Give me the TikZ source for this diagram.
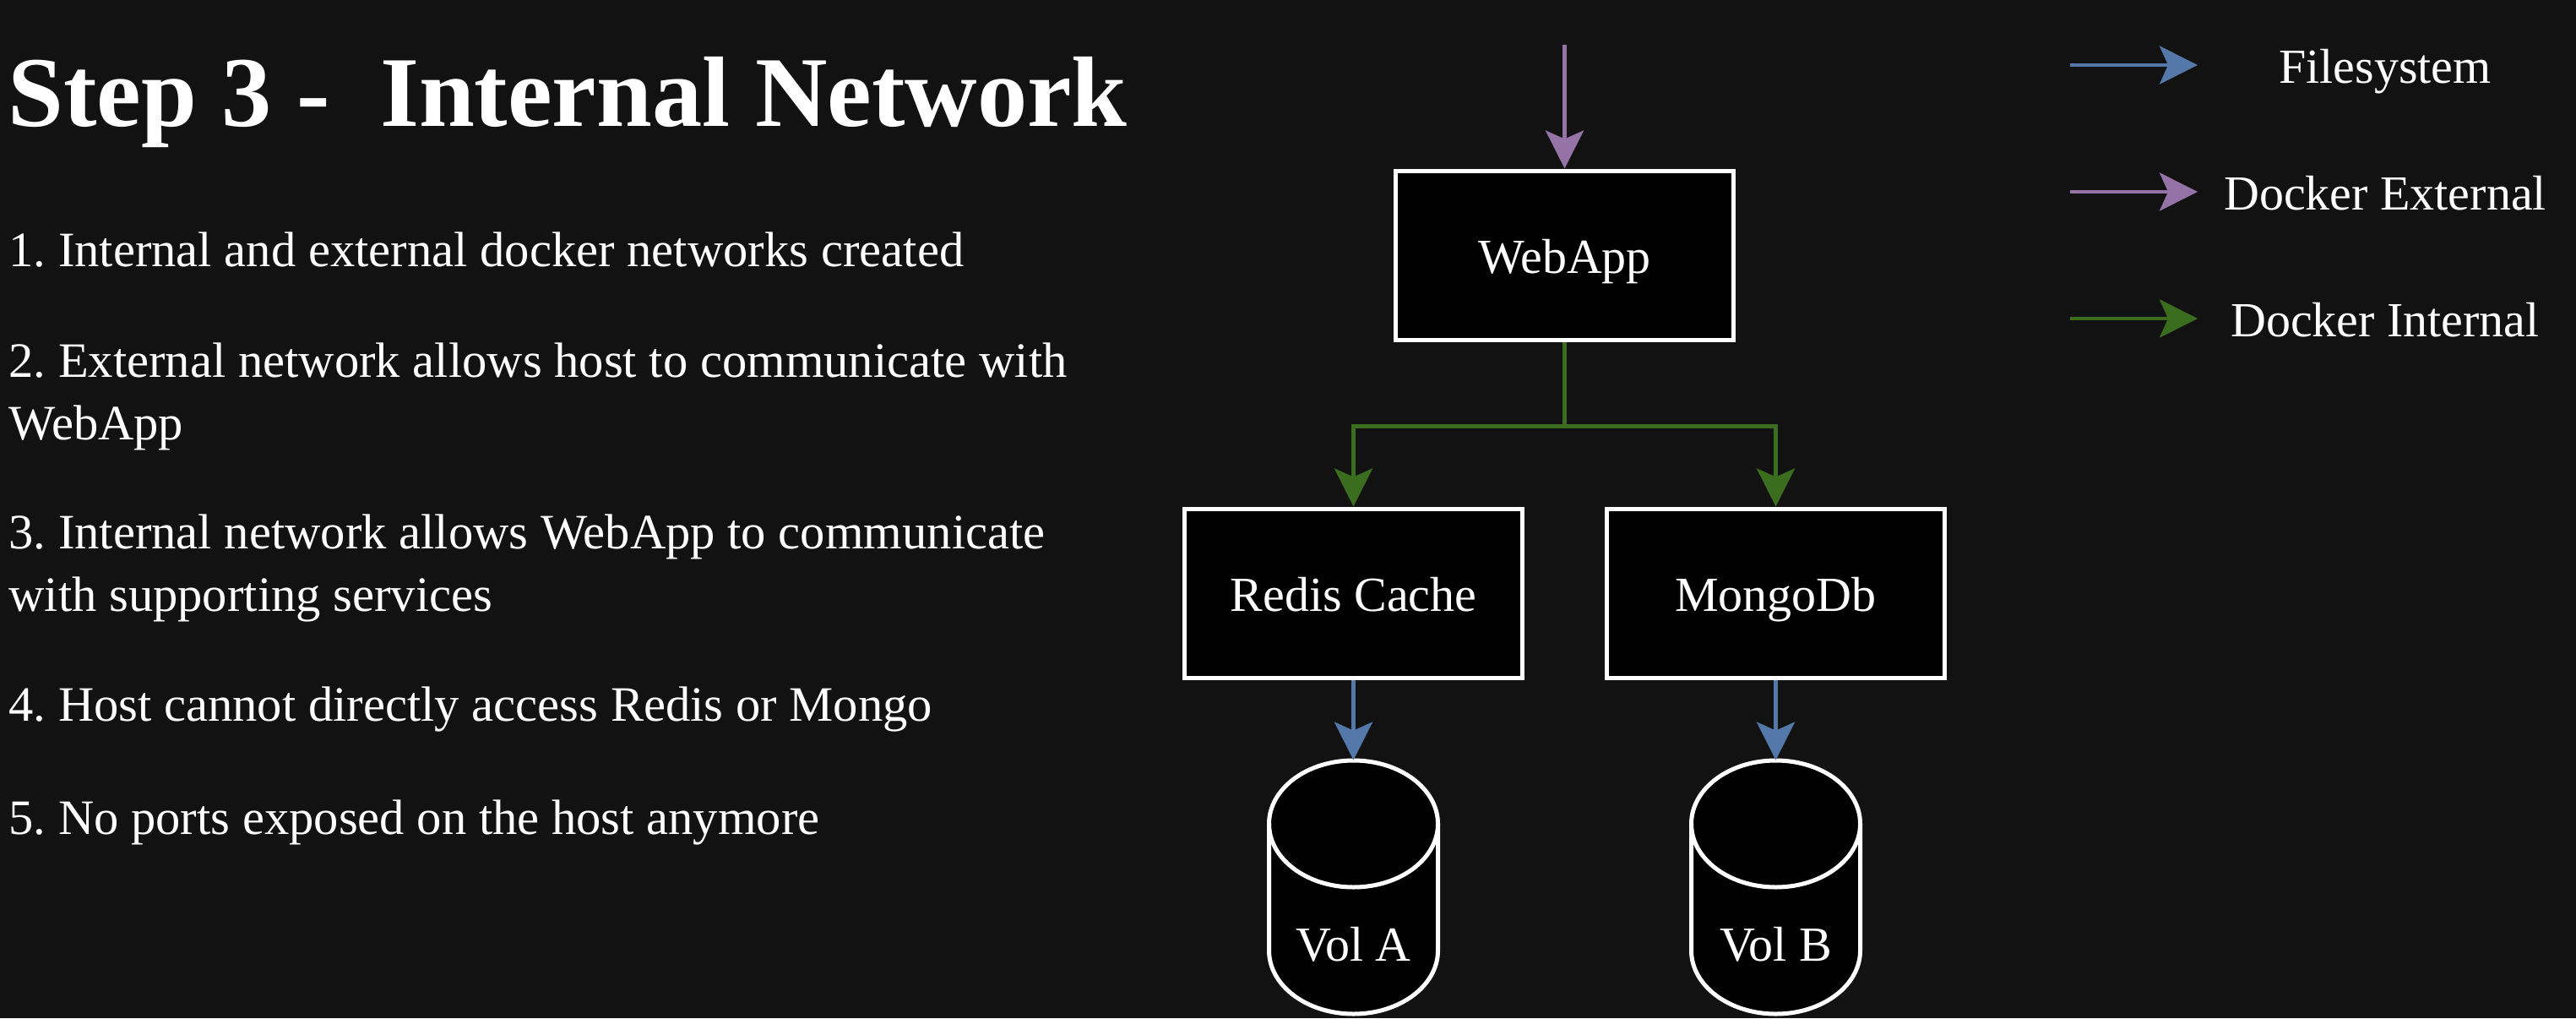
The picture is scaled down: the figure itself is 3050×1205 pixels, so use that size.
\documentclass[tikz,border=0pt]{standalone}
\usepackage{fontspec}
\setmainfont{Liberation Serif}
\usetikzlibrary{arrows.meta}
\definecolor{bgc}{HTML}{121212}
\definecolor{purp}{HTML}{9673A6}
\definecolor{blu}{HTML}{5478AA}
\definecolor{grn}{HTML}{3A6E1E}
\frenchspacing
\begin{document}
\begin{tikzpicture}[x=0.5pt,y=-0.5pt,
  txt/.style={text=white, font=\fontsize{29}{34}\selectfont, inner sep=0pt},
  itm/.style={text=white, font=\fontsize{29.3}{34}\selectfont, inner sep=0pt, anchor=base west},
  box/.style={draw=white, line width=2.5pt, fill=black, minimum width=200pt,
    minimum height=100pt, text=white, font=\fontsize{29}{34}\selectfont,
    text height=21.5pt, text depth=0pt, inner sep=0pt},
  conn/.style={line width=2.4pt, -{Stealth[length=22.5pt,width=22.5pt,inset=5pt]}},
  cyl/.style={draw=white, line width=2.5pt, fill=black},
  cylbox/.style={minimum width=100pt, minimum height=150pt, inner sep=0pt}]
\fill[bgc] (0,0) rectangle (3050,1205);
\useasboundingbox (0,0) rectangle (3050,1205);

% left text
\node[txt, font=\bfseries\fontsize{59.2}{70}\selectfont, anchor=base west] (title) at (9,149) {Step 3 -\ \ Internal Network};
\node[itm] (i1) at (10,315) {1. Internal and external docker networks created};
\node[itm] (i2a) at (10,446) {2. External network allows host to communicate with};
\node[itm] (i2b) at (10,520) {WebApp};
\node[itm] (i3a) at (10,649) {3. Internal network allows WebApp to communicate};
\node[itm] (i3b) at (10,723) {with supporting services};
\node[itm] (i4) at (10,853) {4. Host cannot directly access Redis or Mongo};
\node[itm] (i5) at (10,987) {5. No ports exposed on the host anymore};

% boxes
\node[box] (web) at (1852.5,302) {WebApp};
\node[box] (redis) at (1602.5,702) {Redis Cache};
\node[box] (mongo) at (2102.5,702) {MongoDb};

% cylinders
\node[cylbox] (volA) at (1602.5,1050) {};
\node[cylbox] (volB) at (2102.5,1050) {};
\draw[cyl] (1502.5,975) -- (1502.5,1125) arc[start angle=180,end angle=360,x radius=50pt,y radius=37.5pt]
  -- (1702.5,975) arc[start angle=0,end angle=180,x radius=50pt,y radius=37.5pt] -- cycle;
\draw[cyl, fill=none] (1502.5,975) arc[start angle=180,end angle=360,x radius=50pt,y radius=37.5pt];
\draw[cyl] (2002.5,975) -- (2002.5,1125) arc[start angle=180,end angle=360,x radius=50pt,y radius=37.5pt]
  -- (2202.5,975) arc[start angle=0,end angle=180,x radius=50pt,y radius=37.5pt] -- cycle;
\draw[cyl, fill=none] (2002.5,975) arc[start angle=180,end angle=360,x radius=50pt,y radius=37.5pt];
\node[txt, anchor=base] (volAl) at (1602.5,1137) {Vol A};
\node[txt, anchor=base] (volBl) at (2102.5,1137) {Vol B};

% connectors
\coordinate (ext) at (1852.5,53);
\draw[conn, purp] (ext) -- (web.north);
\draw[conn, grn] (web.south) -- ++(0,100) -| (redis.north);
\draw[conn, grn] (web.south) -- ++(0,100) -| (mongo.north);
\draw[conn, blu] (redis.south) -- (volA.north);
\draw[conn, blu] (mongo.south) -- (volB.north);

% legend
\coordinate (l1s) at (2451,77);  \coordinate (l1e) at (2602,77);
\coordinate (l2s) at (2451,227); \coordinate (l2e) at (2602,227);
\coordinate (l3s) at (2451,377); \coordinate (l3e) at (2602,377);
\draw[conn, blu] (l1s) -- (l1e);
\draw[conn, purp] (l2s) -- (l2e);
\draw[conn, grn] (l3s) -- (l3e);
\node[txt, anchor=base] (lg1) at (2824,98) {Filesystem};
\node[txt, anchor=base] (lg2) at (2824,248) {Docker External};
\node[txt, anchor=base] (lg3) at (2824,398) {Docker Internal};
\end{tikzpicture}
\end{document}
